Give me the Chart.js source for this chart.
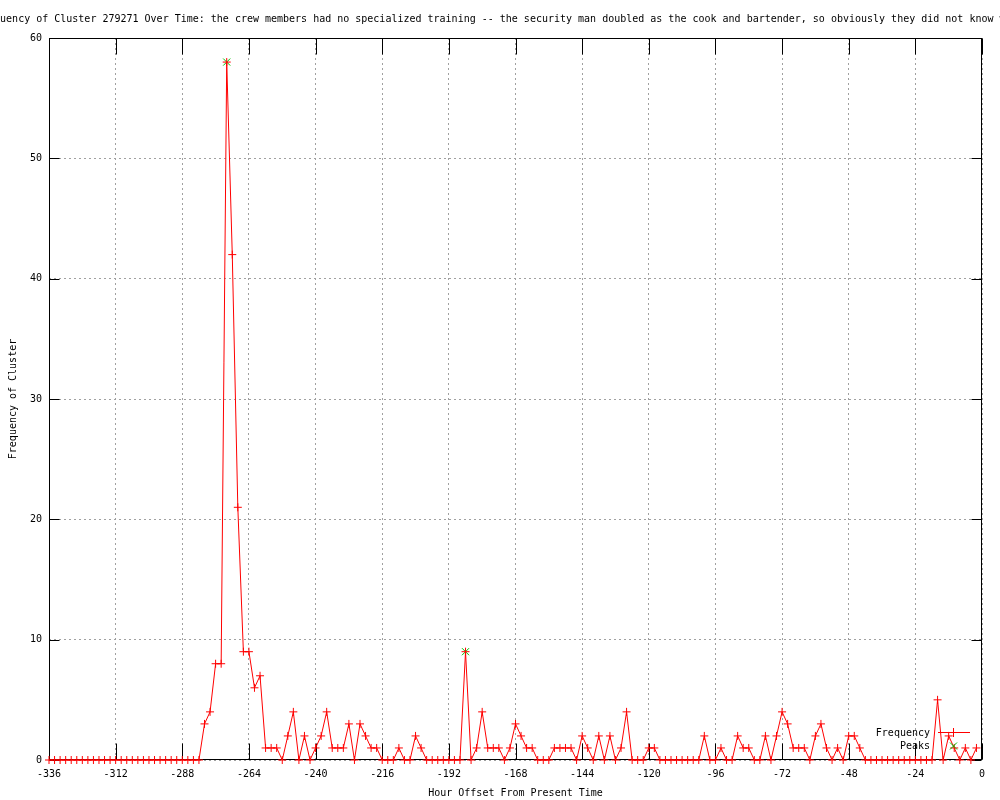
<!DOCTYPE html>
<html>
<head>
<meta charset="utf-8">
<style>
  html, body { margin: 0; padding: 0; background: #fff; }
  canvas { display: block; }
</style>
<script src="https://cdn.jsdelivr.net/npm/chart.js@4.4.1/dist/chart.umd.min.js"></script>
</head>
<body>
<canvas id="freqChart" width="1000" height="800"></canvas>
<script>
const titleText = 'Frequency of Cluster 279271 Over Time: the crew members had no specialized training -- the security man doubled as the cook and bartender, so obviously they did not know what';
const xLabel = 'Hour Offset From Present Time';
const yLabel = 'Frequency of Cluster';

const hours = [
  -336,-334,-332,-330,-328,-326,-324,-322,-320,-318,-316,-314,
  -312,-310,-308,-306,-304,-302,-300,-298,-296,-294,-292,-290,
  -288,-286,-284,-282,-280,-278,-276,-274,-272,-270,-268,-266,
  -264,-262,-260,-258,-256,-254,-252,-250,-248,-246,-244,-242,
  -240,-238,-236,-234,-232,-230,-228,-226,-224,-222,-220,-218,
  -216,-214,-212,-210,-208,-206,-204,-202,-200,-198,-196,-194,
  -192,-190,-188,-186,-184,-182,-180,-178,-176,-174,-172,-170,
  -168,-166,-164,-162,-160,-158,-156,-154,-152,-150,-148,-146,
  -144,-142,-140,-138,-136,-134,-132,-130,-128,-126,-124,-122,
  -120,-118,-116,-114,-112,-110,-108,-106,-104,-102,-100,-98,
  -96,-94,-92,-90,-88,-86,-84,-82,-80,-78,-76,-74,
  -72,-70,-68,-66,-64,-62,-60,-58,-56,-54,-52,-50,
  -48,-46,-44,-42,-40,-38,-36,-34,-32,-30,-28,-26,
  -24,-22,-20,-18,-16,-14,-12,-10,-8,-6,-4,-2
];
const freq = [
  0,0,0,0,0,0,0,0,0,0,0,0,
  0,0,0,0,0,0,0,0,0,0,0,0,
  0,0,0,0,3,4,8,8,58,42,21,9,
  9,6,7,1,1,1,0,2,4,0,2,0,
  1,2,4,1,1,1,3,0,3,2,1,1,
  0,0,0,1,0,0,2,1,0,0,0,0,
  0,0,0,9,0,1,4,1,1,1,0,1,
  3,2,1,1,0,0,0,1,1,1,1,0,
  2,1,0,2,0,2,0,1,4,0,0,0,
  1,1,0,0,0,0,0,0,0,0,2,0,
  0,1,0,0,2,1,1,0,0,2,0,2,
  4,3,1,1,1,0,2,3,1,0,1,0,
  2,2,1,0,0,0,0,0,0,0,0,0,
  0,0,0,0,5,0,2,1,0,1,0,1
];
const peakHours = [-272, -186];
const peakValues = [58, 9];

const xTicks = [-336,-312,-288,-264,-240,-216,-192,-168,-144,-120,-96,-72,-48,-24,0];
const yTicks = [0,10,20,30,40,50,60];

const FONT = 'DejaVu Sans Mono';
Chart.defaults.font.family = FONT;
Chart.defaults.font.size = 10;
Chart.defaults.color = '#000';

const frame = {
  id: 'frame',
  beforeDatasetsDraw(chart){
    const {ctx, chartArea:a, scales:{x, y}} = chart;
    const L = Math.round(a.left)+0.5, R = Math.round(a.right)-0.5;
    const T = Math.round(a.top)+0.5, B = Math.round(a.bottom)-0.5;
    ctx.save();
    ctx.strokeStyle = '#000';
    ctx.lineWidth = 1;
    ctx.beginPath();
    xTicks.forEach(v=>{
      const px = Math.round(x.getPixelForValue(v))+0.5;
      ctx.moveTo(px, B); ctx.lineTo(px, B-16);
      ctx.moveTo(px, T); ctx.lineTo(px, T+16);
    });
    yTicks.forEach(v=>{
      const py = Math.round(y.getPixelForValue(v))+0.5;
      ctx.moveTo(L, py); ctx.lineTo(L+10, py);
      ctx.moveTo(R, py); ctx.lineTo(R-10, py);
    });
    ctx.stroke();
    ctx.strokeRect(L, T, R-L, B-T);
    ctx.restore();
  },
  afterDraw(chart){
    const {ctx} = chart;
    ctx.save();
    ctx.font = '10px "' + FONT + '"';
    ctx.fillStyle = '#000';
    ctx.textBaseline = 'middle';
    ctx.textAlign = 'left';
    ctx.fillText(titleText, -24, 19);

    // key, bottom right like gnuplot
    ctx.textAlign = 'right';
    ctx.fillText('Frequency', 930, 733);
    ctx.fillText('Peaks', 930, 746);
    ctx.strokeStyle = '#ff0000';
    ctx.lineWidth = 1;
    ctx.beginPath();
    ctx.moveTo(938, 732.5); ctx.lineTo(970, 732.5);
    ctx.moveTo(953.5, 728); ctx.lineTo(953.5, 737);
    ctx.stroke();
    ctx.strokeStyle = '#00c000';
    ctx.beginPath();
    ctx.moveTo(950, 742.5); ctx.lineTo(957, 749.5);
    ctx.moveTo(957, 742.5); ctx.lineTo(950, 749.5);
    ctx.stroke();
    ctx.restore();
  }
};

new Chart(document.getElementById('freqChart').getContext('2d'), {
  type: 'line',
  data: {
    datasets: [
      {
        label: 'Frequency',
        data: hours.map((h,i)=>({x:h, y:freq[i]})),
        borderColor: '#ff0000',
        backgroundColor: '#ff0000',
        borderWidth: 1,
        tension: 0,
        pointStyle: 'cross',
        pointRadius: 4,
        pointBorderWidth: 1,
        pointHoverRadius: 4,
        clip: false
      },
      {
        label: 'Peaks',
        data: peakHours.map((h,i)=>({x:h, y:peakValues[i]})),
        showLine: false,
        borderColor: '#00c000',
        backgroundColor: '#00c000',
        pointStyle: 'crossRot',
        pointRadius: 5,
        pointBorderWidth: 1,
        clip: false
      }
    ]
  },
  options: {
    responsive: false,
    animation: false,
    events: [],
    layout: { padding: { top: 38, right: 18, left: 0, bottom: 0 } },
    plugins: { legend: { display: false }, title: { display: false }, tooltip: { enabled: false } },
    scales: {
      x: {
        type: 'linear', min: -336, max: 0,
        afterBuildTicks: s => { s.ticks = xTicks.map(v=>({value:v})); },
        afterFit: s => { s.height = 40; },
        ticks: { padding: 8, maxRotation: 0, autoSkip: false, callback: v => String(v) },
        grid: { color: '#a0a0a0', lineWidth: 1, drawTicks: false },
        border: { display: false, dash: [2,3] },
        title: { display: true, text: xLabel, padding: { top: 0, bottom: 1 } }
      },
      y: {
        min: 0, max: 60,
        afterBuildTicks: s => { s.ticks = yTicks.map(v=>({value:v})); },
        afterFit: s => { s.width = 49; },
        ticks: { padding: 7, callback: v => String(v) },
        grid: { color: '#a0a0a0', lineWidth: 1, drawTicks: false },
        border: { display: false, dash: [2,3] },
        title: { display: true, text: yLabel, padding: { top: 7, bottom: 0 } }
      }
    }
  },
  plugins: [frame]
});
</script>
</body>
</html>
